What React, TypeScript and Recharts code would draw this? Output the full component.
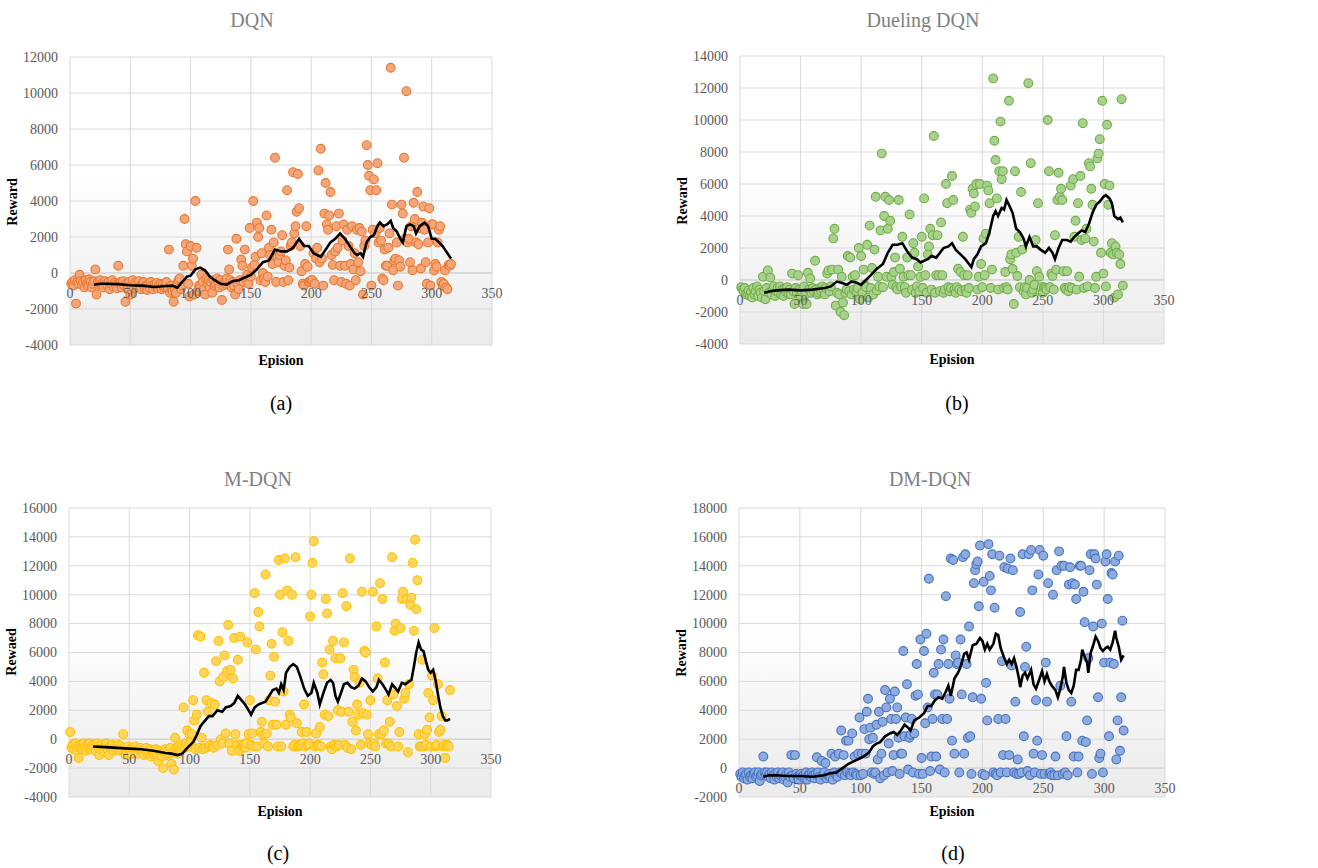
import {
  ComposedChart,
  Scatter,
  XAxis,
  YAxis,
  CartesianGrid,
  ReferenceLine,
  ReferenceDot,
} from "recharts";

// reward per episode (episode = index + 1)
const dqnReward = [
  -600, -500, -700, -400, -1700, -500, -600, -100, -450, -650,
  -500, -800, -400, -600, -700, -350, -500, -800, -600, -450,
  200, -1200, -500, -650, -400, -700, -550, -800, -450, -600,
  -700, -500, -900, -600, -400, -750, -550, -650, -850, 400,
  -600, -500, -800, -450, -700, -1600, -600, -900, -500, -1200,
  -700, -400, -850, -550, -650, -800, -450, -750, -900, -600,
  -500, -850, -700, -950, -600, -800, -500, -700, -900, -650,
  -750, -550, -850, -700, -600, -900, -650, -800, -750, -500,
  -850, 1300, -1100, -700, -1000, -1600, -900, -1100, -600, -400,
  -300, -900, -700, 400, 3000, 1600, 1200, -600, -1300, 1500,
  400, 800, -1200, 4000, 1400, -1000, -700, -800, -100, -500,
  -900, -1200, -300, -600, -400, -800, -500, -1100, -400, -700,
  -600, -300, -500, -800, -400, -1500, -700, -500, -600, -300,
  1300, 200, -400, -800, -500, -700, -1200, 1900, -600, -900,
  -400, 750, 400, -500, 1300, -300, -100, -600, 2500, -200,
  300, 4000, 450, 900, 2800, 2000, 2500, -400, 1100, 0,
  -300, -500, 3200, -200, 1400, 1000, 2400, 500, 1700, 6400,
  -500, 900, 600, 1000, 1200, 2100, -500, 400, 700, 4600,
  -400, 300, 1500, 1700, 5600, 2200, 2600, 3400, 5500, 3600,
  1500, 100, -600, -700, 500, 2600, 350, -500, -500, -400,
  -400, 1100, -600, 800, 1400, 5700, 600, 6900, 800, -700,
  3300, 5000, 2700, 2400, 3200, 4500, 1000, 450, -400, 1200,
  2600, 1400, 3300, 400, -500, 1800, 2700, 400, -600, 2400,
  1500, -700, 500, 2600, 200, 1100, -400, 2400, 600, 2500,
  100, 2300, -1200, 1500, 1800, 7100, 6000, 5400, 4600, -700,
  2400, 5200, 2200, 4600, 6100, 1700, 2500, 1800, -300, -400,
  1300, 400, 400, 1400, 2200, 11400, 3800, 150, 700, 800,
  1700, -700, 700, 350, 3800, 3300, 6400, 1900, 10100, 1700,
  1900, 600, 2600, 150, 3900, 3000, 1700, 4500, 1600, 2500,
  250, 2800, 3700, 2400, 600, -600, 1700, 3600, -700, 2700,
  2700, 150, 500, 350, 1700, 2400, 2600, -500, -700, -600,
  150, -800, -900, 450, 400, 500,
];

const duelingReward = [
  -450, -600, -700, -500, -900, -800, -650, -1000, -750, -1100,
  -500, -900, -700, -400, -1000, -600, -800, -1100, 200, -700,
  -1200, -500, 600, -800, 150, -900, -600, -400, -1000, -700,
  -500, -800, -400, -900, -600, -1000, -550, -750, -450, -850,
  -600, -900, 400, -700, -1500, -500, -800, 300, -600, -1000,
  -700, -1500, -400, -900, -1500, 450, -600, 100, -800, -500,
  -700, 1200, -600, -900, -800, -500, -700, -400, -600, -900,
  -500, 400, 600, -700, -400, 650, 2600, 3200, -1600, -800,
  650, -900, -2000, 200, -1400, -2200, -800, -600, 1500, -700,
  1400, -900, 200, -600, 300, -700, -500, 2000, -1200, 1500,
  -800, 650, -300, -450, 2200, -1100, 3400, -500, 750, -900,
  1900, 5200, -650, 200, -400, 3100, 7900, -450, 4000, 5200,
  200, 3200, 5000, 3700, 200, -300, 500, 1400, -450, -600,
  5000, 700, -400, 2700, 200, -450, -800, 1400, 300, 4100,
  300, -600, 2300, 1700, -800, -400, 850, -700, 200, 2700,
  -500, 5100, 300, -800, 1600, 2100, 3200, -600, 2800, 9000,
  -800, 300, 2800, 300, -700, 3600, 300, -800, -600, 6000,
  4800, -450, -700, -500, 6500, 5000, -600, -800, -450, 700,
  -600, 500, -700, 2700, 300, -600, -800, 300, -500, 4400,
  4200, 5700, 5400, 4600, 6000, -600, 200, 6000, 1000, -450,
  2600, 300, 2900, 5900, 5600, 4800, -500, 650, 12600, 8700,
  7500, 5100, -600, 6800, 9900, 6300, 6800, -500, 500, -450,
  -600, 11200, 1300, 1600, 700, -1500, 6800, 1700, 250, 2700,
  -450, 5500, 1900, -700, -450, -900, -500, 12300, 0, 7300,
  -800, -600, -300, 2500, 550, 4800, 200, -700, -450, -800,
  -450, -500, -600, 10000, 6800, -450, 400, 250, -600, 2800,
  650, 5000, 6700, 5200, 5700, 5000, 550, -500, -600, 550,
  -700, -450, 5900, -500, 6300, 2700, 3700, -600, 4800, 200,
  6500, 2500, 9800, -500, 2600, 3200, -400, 7300, 7100, 5700,
  4700, 2400, -500, 200, 7600, 7900, 8800, 1700, 11200, 400,
  6000, -400, 9700, 4700, 5900, 1700, 2300, 1600, -1100, 2100,
  1700, -900, 1600, 1000, 11300, -350,
];

const mdqnReward = [
  500, -600, -400, -700, -300, -800, -500, -1300, -400, -600,
  -700, -300, -500, -800, -400, -600, -300, -700, -500, -400,
  -600, -800, -300, -500, -1100, -700, -400, -600, -800, -500,
  -300, -700, -1100, -500, -600, -400, -800, -500, -700, -600,
  -400, -800, -500, -700, 350, -600, -1100, -900, -500, -800,
  -700, -1000, -600, -900, -500, -800, -1000, -700, -600, -900,
  -800, -1100, -700, -600, -1000, -900, -700, -1200, -800, -1000,
  -900, -700, -1100, -1500, -800, -1000, -1200, -2000, -900, -700,
  -1100, -800, -1000, -600, -1700, -900, -2100, 100, -600, -1000,
  -500, -800, -700, -400, 2200, -600, -300, 600, -500, 350,
  -200, 350, 2700, 1300, -700, 1700, 7200, -600, 7100, 100,
  -700, 4600, -600, 2700, 1900, -500, -400, 2500, -500, -600,
  2400, 5400, -400, 6800, 4000, 0, -300, 4300, 5800, 400,
  4700, 7900, -300, 4800, -800, 4200, 7000, 350, -400, 5500,
  -800, 7100, -400, -500, -400, -600, -300, 6700, 350, 2700,
  -400, 400, -500, 10100, 6200, -500, 8800, 7800, 500, 1200,
  300, -300, 11400, 400, -500, 2700, 4400, 6600, 1000, 5700,
  2600, 1000, -500, 12400, 10000, -500, 7400, 3300, 12500, 1000,
  10300, 6800, 1700, 1500, 10000, -500, -400, 12600, 1100, -500,
  -400, -400, 500, -300, 2400, -500, 500, -400, -300, 8500,
  10000, 12200, 13700, -500, 400, -400, -400, 850, -500, 5300,
  4500, 1700, 9700, 8700, 1600, 6200, -500, -700, 6800, -400,
  5600, -500, 2000, -400, 5600, 1900, 10100, 6700, -400, 9200,
  -600, 1900, 12500, -700, 1200, 4800, 4300, 600, 2400, 1700,
  3900, -400, 10200, 1800, 6100, 6000, 1700, 350, -300, 2700,
  -400, 10200, -300, -500, 7800, 4200, 350, 10800, 350, 9700,
  600, 5300, -300, 2700, -300, 1200, -500, 12600, 3100, 7500,
  8000, 2300, -500, 500, 7700, 9700, 10200, 2800, 3200, 9700,
  -900, 3800, 9300, 9800, 12200, 7500, 13800, 9000, 11000, 350,
  -500, -500, 5500, -500, 350, -400, 650, 3200, 1500, -500,
  4400, 2700, 7700, -500, -400, 3800, 500, 650, 1600, -500,
  -400, -1300, -500, -400, -500, 3400,
];

const dmdqnReward = [
  -400, -600, -300, -700, -500, -400, -800, -300, -600, -500,
  -700, -400, -300, -600, -500, -300, -900, -500, -400, 800,
  -300, -500, -300, -600, -400, -700, -300, -500, -800, -400,
  -600, -300, -700, -500, -400, -300, -800, -600, -400, -1000,
  -300, -600, 900, -500, -700, 900, -400, -600, -800, -500,
  -400, -600, -500, -700, -300, -800, -500, -400, -600, -300,
  -500, -700, -400, 750, -300, -600, -800, 500, -500, -300,
  350, -700, -500, -400, -600, 1000, -800, -300, 800, -500,
  -600, 1000, -300, 2600, -400, 900, -500, 1900, -300, 1900,
  -400, -500, 2400, -300, 800, -400, -500, 1000, 3500, -500,
  1000, -400, 2700, 1000, 3900, 4800, 2000, 2800, -300, 2100,
  -400, -300, 3000, 600, 3900, -700, 1000, 3200, -500, 5400,
  4200, -300, 1700, 4800, 3400, -200, 900, 5300, 3400, 4200,
  2100, -400, 1000, 1000, 8100, 2200, 3500, 5800, -100, 2100,
  2300, 3400, -300, 2400, 5000, 7200, 5100, -400, 8900, 700,
  -400, 8100, 3100, 9300, 4200, 13100, -200, 800, 3400, 6600,
  5100, 800, 5100, 7200, -100, 8200, 3400, 8900, -300, 11900,
  3400, 7200, 4800, 14500, 1900, 14400, 1000, 7800, 7200, 7300,
  -300, 8900, 5100, 14600, 1000, 14800, 7200, 2100, 9800, 2200,
  -400, 4900, 12800, 13700, 14100, 14300, 11200, 15400, 4800, -400,
  12900, -500, 5900, 3300, 15500, 13300, 12300, 14800, -300, 11100,
  -400, -500, 3400, 14700, -300, 7400, 900, 13900, 3400, -300,
  13800, 900, 14500, 7100, 13700, -300, 4600, -400, 600, -400,
  10800, -300, 14800, 2200, 7000, 8400, -200, 14800, -500, 15100,
  12300, 1000, -300, 4700, 1900, 13400, 15100, -400, 900, 14700,
  -400, 7300, 4600, 12800, -400, -300, -500, 12000, -500, 800,
  13700, -500, 15000, 5700, 14000, -400, 14000, -300, 2200, -500,
  12700, 13900, 4600, 12800, 800, 12700, 11700, -300, 800, 14000,
  14000, 1900, 12200, 10100, 1800, 3300, 7600, 13700, 14800, -400,
  9800, 14800, 14500, 12700, 4900, 700, 1000, 10000, -300, 7300,
  14300, 14800, 11700, 2200, 7300, 13500, 13400, 7200, 14300, 600,
  3300, 14700, 1200, 4900, 10200, 2600,
];

// moving average trend lines [episode, reward]
const dqnTrend = [
  [20, -650], [25, -600], [30, -600], [40, -620], [50, -680], [60, -700], [70, -780],
  [80, -720], [85, -700], [89, -820], [93, -500], [97, -200], [100, -150], [104, 200],
  [108, 300], [112, 150], [116, -200], [120, -400], [125, -600], [130, -650], [135, -450],
  [140, -400], [145, -250], [150, -100], [155, 200], [160, 600], [165, 700], [170, 1300],
  [175, 1200], [180, 1200], [185, 1400], [190, 1900], [194, 1500], [198, 1500], [202, 1100],
  [205, 1000], [208, 900], [212, 1300], [216, 1700], [220, 1900], [224, 2200], [228, 1900],
  [232, 1500], [236, 1100], [238, 1000], [241, 1100], [243, 900], [246, 1700], [249, 2000],
  [252, 2100], [255, 2600], [257, 2800], [260, 2600], [263, 2700], [266, 2900], [268, 2500],
  [271, 2300], [274, 1900], [276, 1700], [279, 2600], [282, 2700], [285, 2600], [287, 2200],
  [290, 2600], [294, 2800], [297, 2600], [300, 1900], [303, 1900], [306, 1700], [309, 1500],
  [312, 1200], [314, 1000], [316, 800],
];

const duelingTrend = [
  [20, -800], [25, -700], [30, -650], [40, -600], [50, -650], [60, -600], [65, -550],
  [70, -500], [75, -400], [80, -100], [85, -200], [88, -300], [92, -100], [96, -150],
  [100, -300], [104, 0], [108, 300], [113, 700], [118, 1000], [122, 1700], [126, 2200],
  [130, 2200], [134, 2300], [138, 1800], [142, 1400], [146, 1300], [149, 1100], [152, 1200],
  [155, 1300], [158, 1500], [162, 1400], [166, 1800], [168, 2000], [172, 2100], [175, 2300],
  [178, 1900], [182, 1600], [186, 1300], [189, 1000], [191, 800], [193, 1300], [196, 1600],
  [199, 2100], [203, 2300], [206, 3000], [209, 4000], [211, 4300], [213, 4000], [216, 4500],
  [218, 4400], [220, 5000], [222, 4700], [225, 4200], [228, 3200], [231, 3000], [234, 2600],
  [236, 2100], [239, 2700], [242, 2100], [245, 2100], [248, 1900], [252, 1700], [255, 2000],
  [258, 1700], [260, 1300], [263, 2000], [266, 2500], [270, 2500], [273, 2400], [276, 2700],
  [279, 2900], [282, 3100], [285, 3000], [288, 3500], [291, 4200], [294, 4700], [297, 4900],
  [300, 5200], [302, 5300], [305, 5100], [307, 4800], [309, 4000], [312, 3800], [314, 3900],
  [316, 3600],
];

const mdqnTrend = [
  [20, -500], [30, -550], [40, -600], [50, -650], [60, -700], [70, -800], [80, -950],
  [85, -1000], [90, -1100], [94, -1000], [97, -700], [100, -450], [103, -200], [106, 300],
  [109, 900], [113, 1300], [116, 1600], [119, 1600], [123, 2000], [127, 1900], [130, 2200],
  [134, 2300], [137, 2500], [140, 3000], [143, 2700], [146, 2400], [149, 2000], [151, 1700],
  [154, 2200], [157, 2400], [160, 2500], [163, 2600], [166, 3000], [169, 3400], [172, 3500],
  [174, 3200], [176, 3800], [178, 3400], [180, 4600], [183, 5000], [186, 5200], [189, 5000],
  [192, 4300], [195, 3500], [198, 3000], [201, 3200], [203, 3900], [206, 3200], [208, 2400],
  [211, 3200], [214, 3900], [217, 4100], [219, 3900], [221, 3000], [223, 2600], [226, 3300],
  [228, 3800], [231, 3900], [234, 3600], [237, 3500], [240, 3700], [243, 4200], [246, 4000],
  [249, 3600], [252, 3300], [255, 3600], [257, 4100], [260, 3800], [263, 3400], [265, 3100],
  [268, 3800], [271, 3500], [273, 3300], [276, 3900], [279, 3800], [282, 4000], [284, 4100],
  [286, 5000], [288, 6000], [290, 6700], [292, 6200], [294, 6100], [296, 5400], [298, 4800],
  [300, 4600], [302, 4800], [304, 4100], [306, 3100], [308, 2200], [310, 1600], [312, 1300],
  [314, 1300], [316, 1400],
];

const dmdqnTrend = [
  [20, -600], [25, -500], [30, -500], [40, -550], [50, -550], [60, -600], [65, -550],
  [70, -500], [75, -350], [80, -300], [85, 0], [90, 300], [95, 500], [100, 700],
  [104, 900], [107, 1100], [110, 1500], [113, 1700], [116, 1800], [120, 2200], [124, 2400],
  [127, 2500], [130, 2300], [133, 2600], [136, 3000], [139, 2800], [141, 2600], [144, 3300],
  [148, 3500], [152, 3800], [155, 4300], [158, 4300], [161, 4700], [164, 4900], [167, 4800],
  [170, 5300], [172, 5700], [174, 5000], [177, 6200], [180, 6600], [182, 7000], [185, 7900],
  [187, 8000], [189, 7500], [192, 8500], [195, 8600], [198, 9000], [200, 8800], [202, 8200],
  [204, 8600], [206, 8200], [209, 8600], [211, 9300], [213, 9200], [215, 8300], [218, 7600],
  [220, 7200], [222, 7500], [224, 7200], [226, 7600], [228, 7000], [230, 6200], [231, 5600],
  [233, 6400], [235, 6600], [237, 6200], [240, 6800], [242, 5800], [244, 5500], [247, 6200],
  [249, 6700], [251, 6000], [253, 6500], [255, 6000], [257, 5700], [260, 5400], [262, 4900],
  [264, 5500], [266, 6300], [267, 7000], [269, 5900], [271, 5400], [273, 5200], [275, 5700],
  [277, 6800], [279, 6800], [281, 7500], [282, 8200], [284, 7700], [286, 7300], [287, 6600],
  [289, 8000], [291, 8500], [293, 9100], [295, 8800], [297, 8300], [299, 8100], [301, 8300],
  [303, 8400], [305, 8200], [307, 8700], [309, 9500], [310, 9000], [312, 8400], [314, 7500],
  [316, 7800],
];

const xTicks = [0, 50, 100, 150, 200, 250, 300, 350];
const yTicksA = [-4000, -2000, 0, 2000, 4000, 6000, 8000, 10000, 12000];
const yTicksB = [-4000, -2000, 0, 2000, 4000, 6000, 8000, 10000, 12000, 14000];
const yTicksC = [-4000, -2000, 0, 2000, 4000, 6000, 8000, 10000, 12000, 14000, 16000];
const yTicksD = [-2000, 0, 2000, 4000, 6000, 8000, 10000, 12000, 14000, 16000, 18000];

const serif = '"Liberation Serif", "Times New Roman", serif';

type PanelProps = {
  left: number;
  top: number;
  width: number;
  height: number;
  margin: { top: number; right: number; bottom: number; left: number };
  reward: number[];
  trend: number[][];
  yTicks: number[];
  fill: string;
  stroke: string;
};

function YTick(props: any) {
  return (
    <text x={props.x} y={props.y} dy={4.8} textAnchor="end" fontFamily={serif} fontSize={14} fill="#595959">
      {props.payload.value}
    </text>
  );
}

function XLab({ viewBox, value }: any) {
  if (!viewBox) return null;
  return (
    <text
      x={viewBox.x + viewBox.width / 2}
      y={viewBox.y + viewBox.height / 2 + 25}
      textAnchor="middle"
      fontFamily={serif}
      fontSize={14}
      fill="#595959"
    >
      {value}
    </text>
  );
}

function Panel(p: PanelProps) {
  const points = p.reward.map((y, i) => ({ x: i + 1, y }));
  const line = p.trend.map(([x, y]) => ({ x, y }));
  const dot = (props: any) => (
    <circle cx={props.cx} cy={props.cy} r={4.4} fill={p.fill} stroke={p.stroke} strokeWidth={1.1} />
  );
  const noDot = () => <g />;
  return (
    <div style={{ position: "absolute", left: p.left, top: p.top }}>
      <ComposedChart width={p.width} height={p.height} margin={p.margin}>
        <CartesianGrid fill="url(#plotBg)" fillOpacity={1} stroke="#d9d9d9" />
        <XAxis type="number" dataKey="x" domain={[0, 350]} ticks={xTicks} hide />
        <YAxis
          type="number"
          domain={[p.yTicks[0], p.yTicks[p.yTicks.length - 1]]}
          ticks={p.yTicks}
          width={60}
          axisLine={false}
          tickLine={false}
          tickMargin={6}
          tick={<YTick />}
        />
        <ReferenceLine y={0} stroke="#cfcfcf" />
        <Scatter data={points} dataKey="y" shape={dot} isAnimationActive={false} />
        <Scatter
          data={line}
          dataKey="y"
          shape={noDot}
          line={{ stroke: "#000", strokeWidth: 2.6 }}
          lineJointType="linear"
          isAnimationActive={false}
        />
        {xTicks.map((t) => (
          <ReferenceDot
            key={t}
            x={t}
            y={0}
            r={0}
            fill="none"
            stroke="none"
            label={<XLab value={t} />}
          />
        ))}
      </ComposedChart>
    </div>
  );
}

function Txt({ x, y, text, size, color = "#000", bold = false, rotate = false }: any) {
  return (
    <div
      style={{
        position: "absolute",
        left: x,
        top: y,
        transform: `translate(-50%, -50%)${rotate ? " rotate(-90deg)" : ""}`,
        fontFamily: serif,
        fontSize: size,
        fontWeight: bold ? "bold" : "normal",
        color,
        whiteSpace: "nowrap",
        lineHeight: 1,
      }}
    >
      {text}
    </div>
  );
}

export default function App() {
  return (
    <div style={{ position: "absolute", left: 0, top: 0, width: 1318, height: 868, background: "#fff" }}>
      <svg width={0} height={0} style={{ position: "absolute" }}>
        <defs>
          <linearGradient id="plotBg" x1="0" y1="0" x2="0" y2="1">
            <stop offset="0%" stopColor="#ffffff" />
            <stop offset="40%" stopColor="#ffffff" />
            <stop offset="100%" stopColor="#ebebeb" />
          </linearGradient>
        </defs>
      </svg>

      <Panel left={0} top={0} width={660} height={420} margin={{ top: 57, right: 168, bottom: 75, left: 10 }}
        reward={dqnReward} trend={dqnTrend} yTicks={yTicksA} fill="#F4A67A" stroke="#E8782F" />
      <Panel left={660} top={0} width={660} height={420} margin={{ top: 56, right: 156, bottom: 76, left: 20 }}
        reward={duelingReward} trend={duelingTrend} yTicks={yTicksB} fill="#A9D18E" stroke="#70AD47" />
      <Panel left={0} top={440} width={660} height={428} margin={{ top: 68, right: 169, bottom: 71, left: 9 }}
        reward={mdqnReward} trend={mdqnTrend} yTicks={yTicksC} fill="#FFD55C" stroke="#FFC000" />
      <Panel left={660} top={440} width={660} height={428} margin={{ top: 68, right: 155, bottom: 71, left: 19 }}
        reward={dmdqnReward} trend={dmdqnTrend} yTicks={yTicksD} fill="#8FAADC" stroke="#4472C4" />

      <Txt x={252} y={20} text="DQN" size={20} color="#7f7f7f" />
      <Txt x={923} y={20} text="Dueling DQN" size={20} color="#7f7f7f" />
      <Txt x={258} y={479} text="M-DQN" size={20} color="#7f7f7f" />
      <Txt x={930} y={479} text="DM-DQN" size={20} color="#7f7f7f" />

      <Txt x={281} y={361} text="Epision" size={14} bold />
      <Txt x={952} y={360} text="Epision" size={14} bold />
      <Txt x={280} y={812} text="Epision" size={14} bold />
      <Txt x={952} y={812} text="Epision" size={14} bold />

      <Txt x={13} y={202} text="Reward" size={14} bold rotate />
      <Txt x={683} y={201} text="Reward" size={14} bold rotate />
      <Txt x={12} y={652} text="Rewaed" size={14} bold rotate />
      <Txt x={682} y={653} text="Reward" size={14} bold rotate />

      <Txt x={281} y={403} text="(a)" size={20} />
      <Txt x={957} y={403} text="(b)" size={20} />
      <Txt x={278} y={853} text="(c)" size={20} />
      <Txt x={953} y={853} text="(d)" size={20} />
    </div>
  );
}
